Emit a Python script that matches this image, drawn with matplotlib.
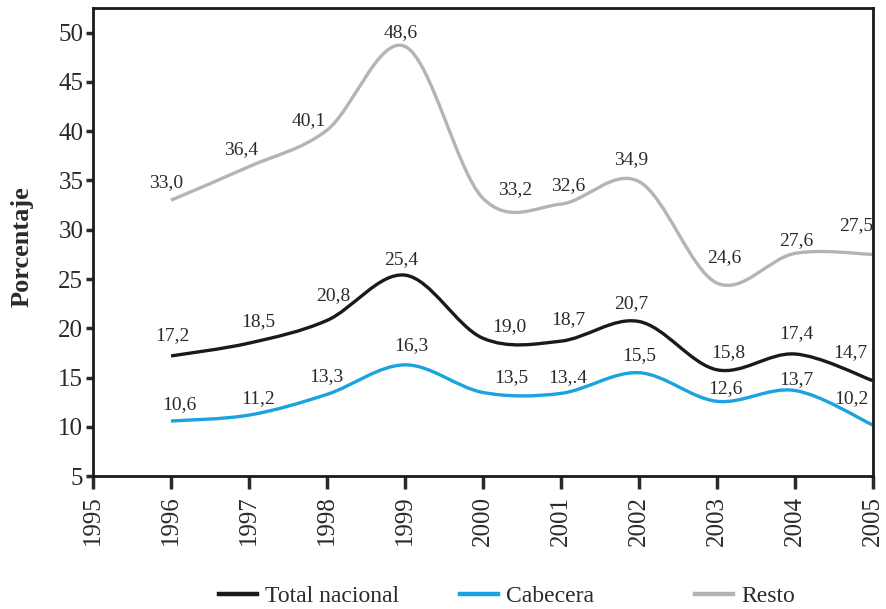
import numpy as np
import matplotlib
matplotlib.use('Agg')
import matplotlib.pyplot as plt
from matplotlib.path import Path
from matplotlib.patches import PathPatch
from matplotlib.lines import Line2D

plt.rcParams['font.family'] = ['Liberation Serif', 'DejaVu Serif']

years = [1996, 1997, 1998, 1999, 2000, 2001, 2002, 2003, 2004, 2005]
total = [17.2, 18.5, 20.8, 25.4, 19.0, 18.7, 20.7, 15.8, 17.4, 14.7]
cabecera = [10.6, 11.2, 13.3, 16.3, 13.5, 13.4, 15.5, 12.6, 13.7, 10.2]
resto = [33.0, 36.4, 40.1, 48.6, 33.2, 32.6, 34.9, 24.6, 27.6, 27.5]
names = ['Total nacional', 'Cabecera', 'Resto']

# label offsets in pixels (dx, dy)
off_total = [(1, 20), (9, 22), (6, 25), (-4, 16), (26, 12), (8, 22), (-8, 18), (12, 17), (2, 20), (-22, 28)]
off_cab = [(8, 16), (9, 17), (-1, 18), (6, 19), (28, 15), (7, 16), (0, 17), (9, 13), (2, 11), (-21, 26)]
off_resto = [(-5, 18), (-8, 17), (-18, 10), (-4, 14), (32, 9), (7, 19), (-8, 22), (7, 25), (2, 13), (-17, 29)]

colors = ['#1a1a1a', '#1aa3de', '#b4b4b4']
legend_x = [219, 460, 695]  # left of legend lines, px


def smooth_path(x, y):
    # excel-like smoothed line: cubic bezier through each point
    p = np.column_stack([x, y]).astype(float)
    ext = np.vstack([p[0], p, p[-1]])
    verts = [p[0]]
    codes = [Path.MOVETO]
    for i in range(len(p) - 1):
        c1 = p[i] + (ext[i + 2] - ext[i]) / 6
        c2 = p[i + 1] - (ext[i + 3] - ext[i + 1]) / 6
        verts += [c1, c2, p[i + 1]]
        codes += [Path.CURVE4] * 3
    return Path(verts, codes)


fig = plt.figure(figsize=(8.86, 6.09), dpi=100)
ax = fig.add_axes([0.105, 0.218, 0.88, 0.769])

series = [total, cabecera, resto]
offsets = [off_total, off_cab, off_resto]
for vals, offs, c, nm, lx in zip(series, offsets, colors, names, legend_x):
    ax.add_patch(PathPatch(smooth_path(years, vals), fill=False, edgecolor=c, lw=2.4, capstyle='butt'))
    for k, (xv, yv, o) in enumerate(zip(years, vals, offs)):
        txt = ('%.1f' % yv).replace('.', ',')
        if vals is cabecera and k == 5:
            txt = '13,.4'
        ax.annotate(txt, (xv, yv), xytext=o, textcoords='offset pixels',
                    ha='center', va='center', fontsize=14, color='#2a2a2a')
    h = Line2D([], [], color=c, lw=3.2, label=nm)
    fig.legend(handles=[h], loc='center left', bbox_to_anchor=(lx / 886, 1 - 596 / 609),
               borderaxespad=0, borderpad=0, frameon=False, fontsize=17,
               handlelength=1.6, handletextpad=0.35, labelcolor='#2a2a2a')

ax.set_xlim(1995, 2005)
ax.set_ylim(5, 52.5)
ax.set_xticks(range(1995, 2006))
ax.set_yticks(range(5, 51, 5))
ax.tick_params(axis='x', length=9, width=2.5, labelsize=18, labelrotation=90, pad=5, colors='#2a2a2a')
ax.tick_params(axis='y', length=5, width=2.5, labelsize=18, pad=2, colors='#2a2a2a')
for s in ax.spines.values():
    s.set_linewidth(2)
    s.set_color('#1a1a1a')
ax.set_ylabel('Porcentaje', fontsize=19, fontweight='bold', color='#2a2a2a')
ax.yaxis.set_label_coords(-0.076, 0.49)

fig.savefig('out.png', dpi=100)
